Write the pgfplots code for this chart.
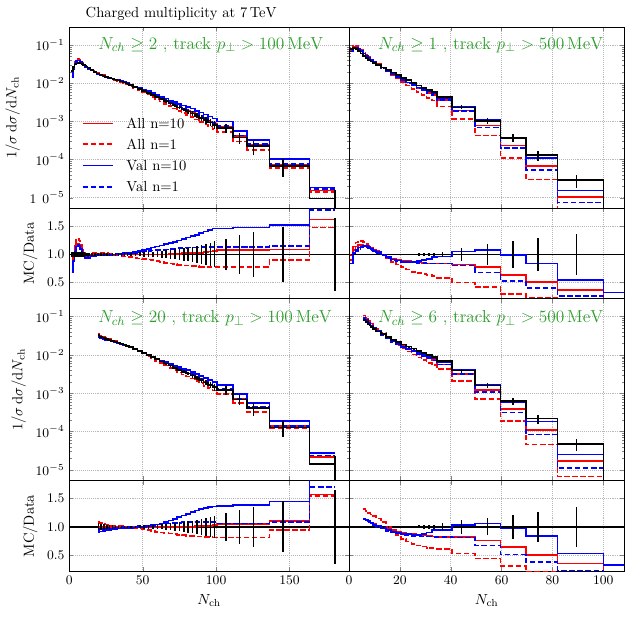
\documentclass[border=0pt]{standalone}
\usepackage{fix-cm}
\usepackage{pgfplots}
\pgfplotsset{compat=1.18}
\usepackage{pgfplotstable}
\definecolor{anngreen}{RGB}{44,160,44}
\definecolor{mcred}{RGB}{255,0,0}
\definecolor{mcblue}{RGB}{0,0,255}

% columns: x = left bin edge, c = error bar position, d = data, e = relative error,
% a10 = All n=10 / data, a1 = All n=1 / data, v10 = Val n=10 / data, v1 = Val n=1 / data
\pgfplotstableread{
x c d e a10 a1 v10 v1
1.5 2 0.0210 0.05 0.72 0.68 0.68 0.70
2.5 3 0.0270 0.05 0.92 0.95 0.88 0.88
3.5 4 0.0310 0.05 1.08 1.15 1.05 1.04
4.5 5 0.0330 0.05 1.16 1.26 1.14 1.13
5.5 6 0.0337 0.05 1.18 1.28 1.17 1.15
6.5 7 0.0335 0.05 1.16 1.25 1.16 1.14
7.5 8 0.0328 0.04 1.10 1.17 1.10 1.09
8.5 9 0.0318 0.04 1.03 1.08 1.02 1.02
9.5 10 0.0305 0.04 0.98 1.02 0.96 0.96
10.5 11 0.0290 0.03 0.96 0.99 0.93 0.94
11.5 12 0.0275 0.03 0.96 0.99 0.93 0.94
12.5 13.5 0.02512 0.02 0.97 1.00 0.94 0.95
14.5 15.5 0.02239 0.02 0.99 1.02 0.96 0.97
16.5 17.5 0.01995 0.02 1.00 1.03 0.97 0.98
18.5 19.5 0.01799 0.02 1.01 1.03 0.98 0.99
20.5 21.5 0.01679 0.02 1.01 1.03 0.98 0.99
22.5 23.5 0.01585 0.02 1.01 1.02 0.99 0.99
24.5 25.5 0.01479 0.02 1.01 1.02 0.99 1.00
26.5 27.5 0.01396 0.02 1.00 1.01 0.99 1.00
28.5 29.5 0.01318 0.02 1.00 1.00 1.00 1.00
30.5 31.5 0.01245 0.02 1.00 0.99 1.00 1.00
32.5 33.5 0.01175 0.02 1.00 0.98 1.01 1.00
34.5 35.5 0.01109 0.02 1.00 0.97 1.01 1.00
36.5 37.5 0.01047 0.02 1.00 0.96 1.02 1.01
38.5 39.5 0.00977 0.02 1.00 0.95 1.02 1.01
40.5 42 0.00891 0.03 1.00 0.95 1.03 1.02
43.5 45 0.00794 0.03 1.00 0.94 1.04 1.03
46.5 48 0.00708 0.035 1.00 0.93 1.06 1.04
49.5 51 0.00631 0.04 1.00 0.92 1.08 1.05
52.5 54 0.00556 0.045 1.00 0.91 1.10 1.06
55.5 57 0.00490 0.05 1.00 0.90 1.12 1.07
58.5 60 0.00432 0.055 1.00 0.88 1.14 1.08
61.5 63 0.00380 0.06 1.00 0.87 1.16 1.08
64.5 66 0.00335 0.07 1.00 0.85 1.18 1.09
67.5 69 0.00295 0.08 1.01 0.84 1.20 1.10
70.5 72 0.00260 0.09 1.01 0.83 1.22 1.10
73.5 75 0.00229 0.10 1.01 0.81 1.25 1.11
76.5 78 0.00204 0.11 1.02 0.80 1.27 1.11
79.5 81 0.00182 0.12 1.02 0.80 1.30 1.12
82.5 84 0.00162 0.14 1.02 0.79 1.33 1.12
85.5 87 0.00141 0.15 1.03 0.79 1.35 1.12
88.5 90 0.00123 0.17 1.03 0.78 1.38 1.13
91.5 93 0.00107 0.19 1.04 0.78 1.41 1.13
94.5 96 0.000933 0.21 1.05 0.78 1.44 1.13
97.5 99 0.000813 0.23 1.06 0.78 1.46 1.13
100.5 106.7 0.000676 0.28 1.08 0.78 1.46 1.13
111.3 115.8 0.000380 0.34 1.08 0.78 1.48 1.13
120.8 125.3 0.000224 0.40 1.08 0.78 1.48 1.13
136.3 145.4 6.76e-5 0.49 1.09 0.90 1.52 1.15
163.5 181 9.55e-6 0.65 1.62 1.48 1.95 1.79
181 181 9.55e-6 0 1.62 1.48 1.95 1.79
}\tabTL

\pgfplotstableread{
x c d e a10 a1 v10 v1
0.5 1 0.0800 0.01 0.90 0.99 0.84 0.84
1.5 2 0.0830 0.01 1.08 1.14 1.02 1.00
2.5 3 0.0770 0.01 1.14 1.21 1.08 1.06
3.5 4 0.0690 0.01 1.17 1.24 1.12 1.10
4.5 5 0.0600 0.01 1.17 1.24 1.14 1.12
5.5 6 0.0520 0.01 1.16 1.22 1.15 1.13
6.5 7 0.0460 0.01 1.14 1.19 1.15 1.13
7.5 8 0.0410 0.01 1.12 1.16 1.13 1.11
8.5 9 0.0370 0.01 1.10 1.12 1.10 1.08
9.5 10 0.0335 0.01 1.08 1.09 1.07 1.05
10.5 11.5 0.0299 0.01 1.05 1.06 1.04 1.02
12.5 13.5 0.0257 0.01 1.00 1.00 1.00 0.98
14.5 15.5 0.0221 0.01 0.96 0.93 0.95 0.94
16.5 17.5 0.0191 0.01 0.93 0.87 0.91 0.90
18.5 19.5 0.0162 0.01 0.91 0.82 0.89 0.88
20.5 21.5 0.0138 0.01 0.89 0.77 0.87 0.87
22.5 23.5 0.0119 0.015 0.88 0.73 0.87 0.86
24.5 25.5 0.0102 0.015 0.87 0.69 0.87 0.86
26.5 27.5 0.00871 0.02 0.86 0.67 0.88 0.85
28.5 29.5 0.00750 0.02 0.85 0.65 0.90 0.85
30.5 31.5 0.00661 0.025 0.84 0.63 0.92 0.84
32.5 33.5 0.00582 0.03 0.84 0.61 0.95 0.84
34.5 36.8 0.00426 0.05 0.84 0.58 0.96 0.84
40.5 44.3 0.00233 0.12 0.82 0.50 1.05 0.80
49.5 54.5 0.00102 0.18 0.77 0.42 1.08 0.68
59.5 64.4 0.000372 0.24 0.63 0.29 0.99 0.53
69.5 74.4 0.000132 0.30 0.51 0.23 0.84 0.40
82 89.5 2.88e-5 0.37 0.37 0.15 0.54 0.26
100 89.5 2.88e-5 0 0.37 0.15 0.54 0.26
100 89.5 1e-9 0 0.01 0.01 0.32 0.01
}\tabTR

\pgfplotstableread{
x c d e a10 a1 v10 v1
19.5 20 0.0327 0.06 0.99 1.08 0.91 0.95
20.5 21.5 0.02985 0.05 1.00 1.07 0.92 0.96
22.5 23.5 0.02818 0.05 1.00 1.05 0.93 0.97
24.5 25.5 0.02630 0.04 1.00 1.04 0.94 0.97
26.5 27.5 0.02483 0.04 1.00 1.03 0.95 0.98
28.5 29.5 0.02344 0.03 1.00 1.02 0.96 0.98
30.5 31.5 0.02213 0.02 1.00 1.02 0.96 0.99
32.5 33.5 0.02089 0.02 1.00 1.01 0.97 0.99
34.5 35.5 0.01972 0.02 1.00 1.01 0.97 0.99
36.5 37.5 0.01862 0.02 1.00 1.00 0.98 1.00
38.5 39.5 0.01738 0.02 1.00 1.00 0.98 1.00
40.5 42 0.01585 0.02 1.00 0.99 0.98 1.00
43.5 45 0.01413 0.02 1.00 0.98 0.99 1.00
46.5 48 0.01259 0.025 1.00 0.97 0.99 1.01
49.5 51 0.01122 0.03 1.00 0.96 1.00 1.01
52.5 54 0.00989 0.03 1.00 0.95 1.01 1.02
55.5 57 0.00871 0.035 1.00 0.93 1.02 1.03
58.5 60 0.00767 0.04 1.00 0.91 1.04 1.04
61.5 63 0.00676 0.045 1.00 0.90 1.06 1.05
64.5 66 0.00596 0.05 1.00 0.89 1.08 1.06
67.5 69 0.00525 0.06 1.00 0.88 1.11 1.06
70.5 72 0.00462 0.07 1.00 0.87 1.14 1.07
73.5 75 0.00407 0.08 1.00 0.86 1.17 1.07
76.5 78 0.00363 0.09 1.00 0.85 1.20 1.08
79.5 81 0.00324 0.10 1.00 0.84 1.23 1.08
82.5 84 0.00288 0.11 1.00 0.84 1.26 1.09
85.5 87 0.00251 0.13 1.01 0.83 1.29 1.09
88.5 90 0.00219 0.14 1.01 0.83 1.31 1.09
91.5 93 0.00191 0.16 1.02 0.82 1.33 1.09
94.5 96 0.00166 0.18 1.02 0.82 1.35 1.09
97.5 99 0.00145 0.20 1.03 0.81 1.36 1.09
100.5 106.7 0.00120 0.25 1.05 0.81 1.37 1.06
111.3 115.8 0.000692 0.30 1.05 0.81 1.39 1.06
120.8 125.3 0.000407 0.36 1.05 0.81 1.39 1.06
136.3 145.4 0.000129 0.45 1.10 0.95 1.45 1.09
163.5 181 1.41e-5 0.65 1.57 1.55 1.95 1.70
181 181 1.41e-5 0 1.57 1.55 1.95 1.70
}\tabBL

\pgfplotstableread{
x c d e a10 a1 v10 v1
5.5 6 0.0820 0.02 1.15 1.31 1.15 1.14
6.5 7 0.0710 0.02 1.13 1.28 1.13 1.12
7.5 8 0.0620 0.02 1.10 1.25 1.10 1.09
8.5 9 0.0540 0.02 1.07 1.22 1.07 1.06
9.5 10 0.0480 0.02 1.05 1.19 1.04 1.03
10.5 11.5 0.0410 0.02 1.02 1.15 1.01 1.00
12.5 13.5 0.0345 0.02 0.99 1.08 0.98 0.97
14.5 15.5 0.0290 0.02 0.96 1.00 0.94 0.93
16.5 17.5 0.0245 0.02 0.94 0.92 0.91 0.90
18.5 19.5 0.0213 0.02 0.92 0.85 0.89 0.88
20.5 21.5 0.0187 0.02 0.90 0.79 0.87 0.86
22.5 23.5 0.0165 0.02 0.88 0.74 0.87 0.85
24.5 25.5 0.0146 0.02 0.87 0.70 0.86 0.84
26.5 27.5 0.0128 0.025 0.86 0.67 0.86 0.84
28.5 29.5 0.0113 0.03 0.85 0.65 0.87 0.83
30.5 31.5 0.0099 0.03 0.84 0.63 0.90 0.83
32.5 33.5 0.0087 0.04 0.83 0.62 0.94 0.82
34.5 36.8 0.0069 0.06 0.82 0.61 0.95 0.82
40.5 44.3 0.0039 0.12 0.82 0.53 1.03 0.81
49.5 54.5 0.00158 0.15 0.76 0.44 1.06 0.67
59.5 64.4 0.000617 0.21 0.64 0.31 0.97 0.51
69.5 74.4 0.000219 0.27 0.50 0.21 0.84 0.38
82 89.5 4.79e-5 0.36 0.35 0.14 0.53 0.23
100 89.5 4.79e-5 0 0.35 0.14 0.53 0.23
100 89.5 1e-9 0 0.01 0.01 0.32 0.01
}\tabBR

\pgfplotsset{
  every axis/.append style={scale only axis, anchor=north west,
    grid=major, grid style={densely dotted, black!28, line width=0.45pt},
    axis line style={line width=0.7pt},
    major tick length=3pt, minor tick length=1.6pt,
    tick label style={font=\fontsize{9.5}{11}\selectfont},
    label style={font=\fontsize{10.5}{12}\selectfont}},
}

\newcommand{\mainplots}[1]{%
  \addplot[forget plot, const plot, draw=mcred, line width=1.2pt] table[x=x, y expr=\thisrow{d}*\thisrow{a10}] {#1};
  \addplot[forget plot, const plot, draw=mcred, line width=1.2pt, dash pattern=on 4pt off 1.8pt] table[x=x, y expr=\thisrow{d}*\thisrow{a1}] {#1};
  \addplot[forget plot, const plot, draw=mcblue, line width=1.2pt] table[x=x, y expr=\thisrow{d}*\thisrow{v10}] {#1};
  \addplot[forget plot, const plot, draw=mcblue, line width=1.2pt, dash pattern=on 4pt off 1.8pt] table[x=x, y expr=\thisrow{d}*\thisrow{v1}] {#1};
  \addplot[forget plot, const plot, draw=black, line width=1.2pt] table[x=x, y=d] {#1};
  \addplot[forget plot, only marks, mark=|, mark size=0pt,
    error bars/.cd, y dir=both, y explicit, error mark=none,
    error bar style={draw=black, solid, line width=1.1pt}]
    table[x=c, y=d, y error expr=\thisrow{e}*\thisrow{d}] {#1};
}
\newcommand{\ratioplots}[1]{%
  \addplot[forget plot, draw=black, line width=1.0pt] coordinates {(-10,1) (250,1)};
  \addplot[forget plot, const plot, draw=mcred, line width=1.2pt] table[x=x, y=a10] {#1};
  \addplot[forget plot, const plot, draw=mcred, line width=1.2pt, dash pattern=on 4pt off 1.8pt] table[x=x, y=a1] {#1};
  \addplot[forget plot, const plot, draw=mcblue, line width=1.2pt] table[x=x, y=v10] {#1};
  \addplot[forget plot, const plot, draw=mcblue, line width=1.2pt, dash pattern=on 4pt off 1.8pt] table[x=x, y=v1] {#1};
  \addplot[forget plot, only marks, mark=|, mark size=0pt,
    error bars/.cd, y dir=both, y explicit, error mark=none,
    error bar style={draw=black, solid, line width=1.1pt}]
    table[x=c, y expr=1, y error=e] {#1};
}

\begin{document}
\begin{tikzpicture}
\path[use as bounding box] (0,0) rectangle (450pt,-444.24pt);

% ---------- top left ----------
\begin{axis}[ymode=log, ymin=5.3e-6, ymax=0.29, ytick={1e-5,1e-4,1e-3,1e-2,1e-1},
  xmin=0, xmax=190.5, width=201.4pt, xtick={0,50,100,150}, xticklabels={},
  at={(49.9pt,-19.66pt)}, height=130.32pt,
  yticklabels={$1\;\,0^{-5}$,$10^{-4}$,$10^{-3}$,$10^{-2}$,$10^{-1}$},
  ylabel={$1/\sigma\,\mathrm{d}\sigma/\mathrm{d}N_{\mathrm{ch}}$}]
  \mainplots{\tabTL}
  % legend keys
  \draw[draw=mcred, line width=1.2pt] (rel axis cs:0.048,0.468) -- (rel axis cs:0.157,0.468);
  \draw[draw=mcred, line width=1.2pt, dash pattern=on 4pt off 1.8pt] (rel axis cs:0.048,0.3536) -- (rel axis cs:0.157,0.3536);
  \draw[draw=mcblue, line width=1.2pt] (rel axis cs:0.048,0.2365) -- (rel axis cs:0.157,0.2365);
  \draw[draw=mcblue, line width=1.2pt, dash pattern=on 4pt off 1.8pt] (rel axis cs:0.048,0.1193) -- (rel axis cs:0.157,0.1193);
  \node[anchor=west, inner sep=0pt, font=\fontsize{10.5}{12}\selectfont] at (rel axis cs:0.203,0.4696) {All n=10};
  \node[anchor=west, inner sep=0pt, font=\fontsize{10.5}{12}\selectfont] at (rel axis cs:0.203,0.3536) {All n=1};
  \node[anchor=west, inner sep=0pt, font=\fontsize{10.5}{12}\selectfont] at (rel axis cs:0.203,0.2354) {Val n=10};
  \node[anchor=west, inner sep=0pt, font=\fontsize{10.5}{12}\selectfont] at (rel axis cs:0.203,0.1193) {Val n=1};
  \node[anchor=west, inner sep=0pt, text=anngreen, font=\fontsize{12.5}{14}\selectfont]
    at (rel axis cs:0.1026,0.902) {$N_{ch}\geq 2$ , track $p_\perp > 100\,\mathrm{MeV}$};
\end{axis}
\begin{axis}[ymin=0.21, ymax=1.82, ytick={0.5,1.0,1.5},
  yticklabel style={/pgf/number format/.cd, fixed, fixed zerofill, precision=1},
  xmin=0, xmax=190.5, width=201.4pt, xtick={0,50,100,150}, xticklabels={},
  at={(49.9pt,-149.98pt)}, height=65.16pt, ylabel={MC/Data}]
  \ratioplots{\tabTL}
\end{axis}

% ---------- top right ----------
\begin{axis}[ymode=log, ymin=5.3e-6, ymax=0.29, ytick={1e-5,1e-4,1e-3,1e-2,1e-1},
  xmin=0, xmax=108.3, width=198.3pt, xtick={0,20,40,60,80,100}, xticklabels={}, yticklabels={},
  at={(251.3pt,-19.66pt)}, height=130.32pt]
  \mainplots{\tabTR}
  \node[anchor=west, inner sep=0pt, text=anngreen, font=\fontsize{12.5}{14}\selectfont]
    at (rel axis cs:0.105,0.902) {$N_{ch}\geq 1$ , track $p_\perp > 500\,\mathrm{MeV}$};
\end{axis}
\begin{axis}[ymin=0.21, ymax=1.82, ytick={0.5,1.0,1.5},
  xmin=0, xmax=108.3, width=198.3pt, xtick={0,20,40,60,80,100}, xticklabels={}, yticklabels={},
  at={(251.3pt,-149.98pt)}, height=65.16pt]
  \ratioplots{\tabTR}
  \addplot[forget plot, draw=mcblue, line width=1.2pt] coordinates {(100,0.32) (115,0.32)};
\end{axis}

% ---------- bottom left ----------
\begin{axis}[ymode=log, ymin=5.3e-6, ymax=0.29, ytick={1e-5,1e-4,1e-3,1e-2,1e-1},
  xmin=0, xmax=190.5, width=201.4pt, xtick={0,50,100,150}, xticklabels={},
  at={(49.9pt,-215.14pt)}, height=130.82pt,
  ylabel={$1/\sigma\,\mathrm{d}\sigma/\mathrm{d}N_{\mathrm{ch}}$}]
  \mainplots{\tabBL}
  \node[anchor=west, inner sep=0pt, text=anngreen, font=\fontsize{12.5}{14}\selectfont]
    at (rel axis cs:0.1026,0.894) {$N_{ch}\geq 20$ , track $p_\perp > 100\,\mathrm{MeV}$};
\end{axis}
\begin{axis}[ymin=0.21, ymax=1.82, ytick={0.5,1.0,1.5},
  yticklabel style={/pgf/number format/.cd, fixed, fixed zerofill, precision=1},
  xmin=0, xmax=190.5, width=201.4pt, xtick={0,50,100,150},
  at={(49.9pt,-345.96pt)}, height=65.52pt,
  ylabel={MC/Data}, xlabel={$N_{\mathrm{ch}}$}]
  \ratioplots{\tabBL}
\end{axis}

% ---------- bottom right ----------
\begin{axis}[ymode=log, ymin=5.3e-6, ymax=0.29, ytick={1e-5,1e-4,1e-3,1e-2,1e-1},
  xmin=0, xmax=108.3, width=198.3pt, xtick={0,20,40,60,80,100}, xticklabels={}, yticklabels={},
  at={(251.3pt,-215.14pt)}, height=130.82pt]
  \mainplots{\tabBR}
  \node[anchor=west, inner sep=0pt, text=anngreen, font=\fontsize{12.5}{14}\selectfont]
    at (rel axis cs:0.105,0.894) {$N_{ch}\geq 6$ , track $p_\perp > 500\,\mathrm{MeV}$};
\end{axis}
\begin{axis}[ymin=0.21, ymax=1.82, ytick={0.5,1.0,1.5},
  xmin=0, xmax=108.3, width=198.3pt, xtick={0,20,40,60,80,100}, yticklabels={},
  at={(251.3pt,-345.96pt)}, height=65.52pt,
  xlabel={$N_{\mathrm{ch}}$}]
  \ratioplots{\tabBR}
  \addplot[forget plot, draw=mcblue, line width=1.2pt] coordinates {(100,0.32) (115,0.32)};
\end{axis}

\node[font=\fontsize{10.5}{12}\selectfont] at (130.5pt,-10.08pt) {Charged multiplicity at $7\,\mathrm{TeV}$};
\end{tikzpicture}
\end{document}
